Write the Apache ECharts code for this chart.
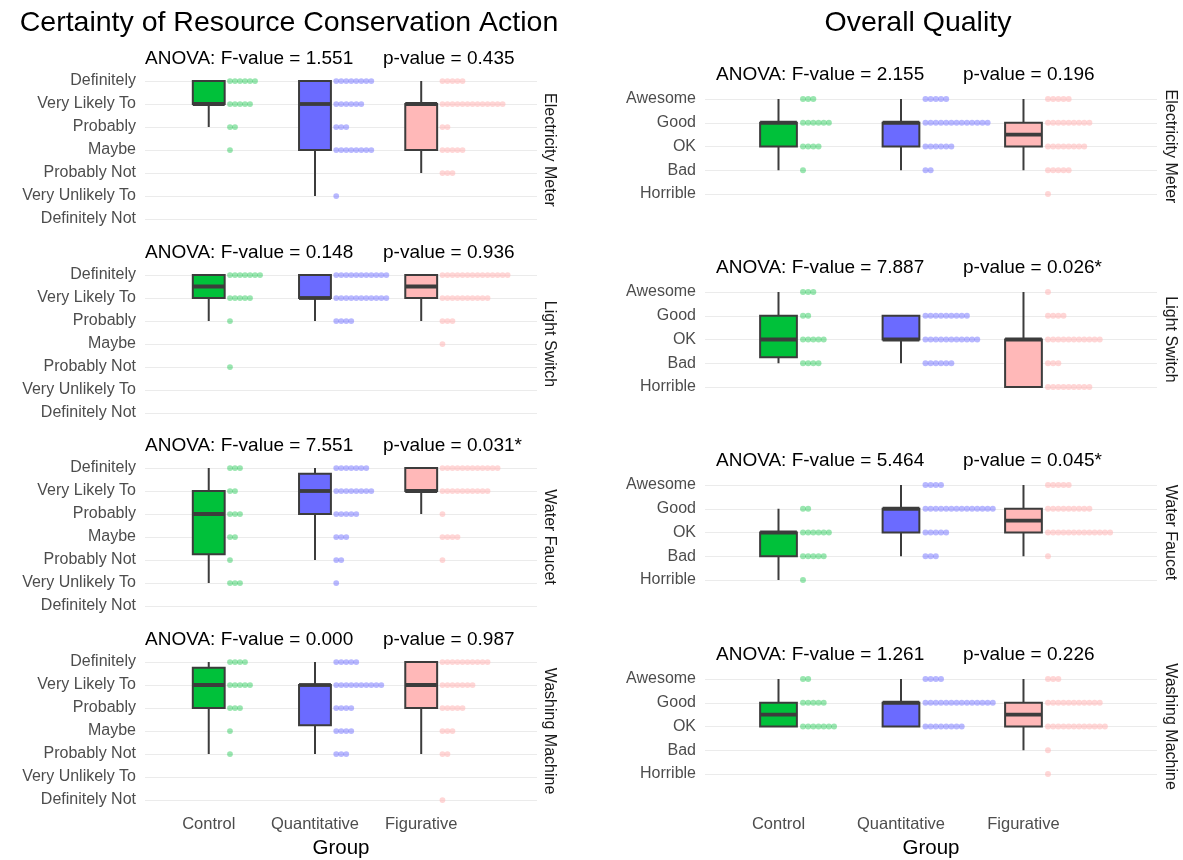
<!DOCTYPE html>
<html>
<head>
<meta charset="utf-8">
<title>Certainty and Overall Quality by Group</title>
<script src="https://cdn.jsdelivr.net/npm/echarts@6/dist/echarts.min.js"></script>
<style>
  html, body { margin: 0; padding: 0; background: #ffffff; }
  #chart { width: 1183px; height: 860px; }
</style>
</head>
<body>
<div id="chart"></div>
<script>
// ---- data -------------------------------------------------------------
const groups = ['Control', 'Quantitative', 'Figurative'];
const fixtures = ['Electricity Meter', 'Light Switch', 'Water Faucet', 'Washing Machine'];
const certaintyLevels = ['Definitely Not', 'Very Unlikely To', 'Probably Not', 'Maybe',
                         'Probably', 'Very Likely To', 'Definitely'];
const qualityLevels = ['Horrible', 'Bad', 'OK', 'Good', 'Awesome'];

// number of answers at each level (lowest level first), per group: Control, Quantitative, Figurative
const certaintyElectricity = [[0,0,0,1,2,5,6], [0,1,0,8,3,6,8], [0,0,3,5,2,13,5]];
const certaintyLight       = [[0,0,1,0,1,5,7], [0,0,0,0,4,11,11], [0,0,0,1,3,10,14]];
const certaintyWater       = [[0,3,1,2,3,2,3], [0,1,2,3,5,8,7], [0,0,1,4,1,10,12]];
const certaintyWashing     = [[0,0,1,1,3,5,4], [0,0,3,4,4,10,5], [1,0,2,3,5,7,10]];

const qualityElectricity = [[0,1,4,6,3], [0,2,6,13,5], [1,5,8,9,5]];
const qualityLight       = [[0,4,5,2,3], [0,6,11,9,0], [9,3,11,4,1]];
const qualityWater       = [[1,5,6,2,0], [0,3,5,14,4], [0,1,13,9,5]];
const qualityWashing     = [[0,0,7,5,2], [0,0,8,14,4], [1,1,12,11,3]];

const certaintyF = ['1.551', '0.148', '7.551', '0.000'];
const certaintyP = ['0.435', '0.936', '0.031*', '0.987'];
const qualityF   = ['2.155', '7.887', '5.464', '1.261'];
const qualityP   = ['0.196', '0.026*', '0.045*', '0.226'];

// ---- styling ----------------------------------------------------------
const FONT = '"Liberation Sans", Arial, Helvetica, sans-serif';
const BOX_FILL = ['#00C13A', '#6B6BFF', '#FFB8B8'];
const DOT_FILL = ['rgba(0,193,58,0.5)', 'rgba(107,107,255,0.6)', 'rgba(255,184,184,0.72)'];
const LINE = '#3C3C3C';
const X_MIN = 0.4, X_MAX = 4.09;
const BOX_HALF = 0.15;      // half box width, in group units
const DOT_NUDGE = 0.2;      // dots start this far right of the group centre
const DOT_STEP = 0.218;     // dot spacing, in response-level units
const DOT_SIZE = 0.25;      // dot diameter, in response-level units

const columns = [
  {
    title: 'Certainty of Resource Conservation Action', titleX: 289,
    levels: certaintyLevels,
    panels: [certaintyElectricity, certaintyLight, certaintyWater, certaintyWashing],
    F: certaintyF, P: certaintyP,
    left: 145, width: 392, tops: [81, 275, 468, 662], height: 138,
    anovaX: 145, pX: 383, anovaDy: -22, stripX: 549, labelMargin: 16, nameGap: 38
  },
  {
    title: 'Overall Quality', titleX: 918,
    levels: qualityLevels,
    panels: [qualityElectricity, qualityLight, qualityWater, qualityWashing],
    F: qualityF, P: qualityP,
    left: 705, width: 452, tops: [99, 292, 485, 679], height: 95,
    anovaX: 716, pX: 963, anovaDy: -24, stripX: 1170, labelMargin: 42, nameGap: 64
  }
];

// ---- box statistics (R type-7 quantiles, 1.5 IQR whiskers) --------------
function quantile(sorted, p) {
  const h = (sorted.length - 1) * p;
  const lo = Math.floor(h), hi = Math.ceil(h);
  return sorted[lo] + (h - lo) * (sorted[hi] - sorted[lo]);
}
function boxStats(counts) {
  const vals = [];
  counts.forEach((n, i) => { for (let k = 0; k < n; k++) vals.push(i + 1); });
  const q1 = quantile(vals, 0.25), med = quantile(vals, 0.5), q3 = quantile(vals, 0.75);
  const iqr = q3 - q1;
  const inside = vals.filter(v => v >= q1 - 1.5 * iqr && v <= q3 + 1.5 * iqr);
  return [Math.min.apply(null, inside), q1, med, q3, Math.max.apply(null, inside)];
}

function renderBox(params, api) {
  const g = api.value(0);
  const gi = g - 1;
  const lo = api.coord([g, api.value(1)]);
  const q1 = api.coord([g, api.value(2)]);
  const md = api.coord([g, api.value(3)]);
  const q3 = api.coord([g, api.value(4)]);
  const hi = api.coord([g, api.value(5)]);
  const half = api.size([BOX_HALF, 0])[0];
  const x = q1[0];
  const children = [];
  if (hi[1] < q3[1] - 0.5) {
    children.push({ type: 'line', shape: { x1: x, y1: hi[1], x2: x, y2: q3[1] },
      style: { stroke: LINE, lineWidth: 2 } });
  }
  if (lo[1] > q1[1] + 0.5) {
    children.push({ type: 'line', shape: { x1: x, y1: q1[1], x2: x, y2: lo[1] },
      style: { stroke: LINE, lineWidth: 2 } });
  }
  children.push({ type: 'rect', shape: { x: x - half, y: q3[1], width: half * 2, height: q1[1] - q3[1] },
    style: { fill: BOX_FILL[gi], stroke: LINE, lineWidth: 2 } });
  children.push({ type: 'line', shape: { x1: x - half, y1: md[1], x2: x + half, y2: md[1] },
    style: { stroke: LINE, lineWidth: 3.8 } });
  return { type: 'group', children };
}

// ---- build option ---------------------------------------------------------
const grid = [], xAxis = [], yAxis = [], series = [], graphic = [];
let idx = 0;
columns.forEach(col => {
  const nLev = col.levels.length;
  graphic.push({
    type: 'text', x: col.titleX, y: 23,
    style: { text: col.title, fontFamily: FONT, fontSize: 28.5, fill: '#000', align: 'center', verticalAlign: 'middle' }
  });
  col.panels.forEach((counts, i) => {
    const top = col.tops[i];
    const yPx = col.height / (nLev - 1);
    const xPx = col.width / (X_MAX - X_MIN);
    const last = i === col.panels.length - 1;
    grid.push({ left: col.left, top: top, width: col.width, height: col.height });
    xAxis.push({
      gridIndex: idx, type: 'value', min: X_MIN, max: X_MAX,
      axisLine: { show: false }, axisTick: { show: false }, splitLine: { show: false },
      axisLabel: {
        show: last, customValues: [1, 2, 3],
        formatter: v => groups[Math.round(v) - 1] && Math.abs(v - Math.round(v)) < 1e-6 ? groups[Math.round(v) - 1] : '',
        color: '#4D4D4D', fontSize: 16.5, fontFamily: FONT, margin: col.labelMargin
      },
      name: last ? 'Group' : '', nameLocation: 'middle', nameGap: col.nameGap,
      nameTextStyle: { color: '#000', fontSize: 20.5, fontFamily: FONT }
    });
    yAxis.push({
      gridIndex: idx, type: 'value', min: 1, max: nLev, interval: 1,
      axisLine: { show: false }, axisTick: { show: false },
      splitLine: { show: true, lineStyle: { color: '#EBEBEB', width: 1 } },
      axisLabel: {
        formatter: v => col.levels[v - 1] || '',
        color: '#4D4D4D', fontSize: 16, fontFamily: FONT, margin: 9
      }
    });

    // boxes
    series.push({
      type: 'custom', xAxisIndex: idx, yAxisIndex: idx, clip: false, silent: true,
      renderItem: renderBox,
      encode: { x: 0, y: [1, 2, 3, 4, 5] },
      data: counts.map((c, g) => [g + 1].concat(boxStats(c)))
    });

    // stacked dots, one row per response level
    const stepX = DOT_STEP * yPx / xPx;
    const dots = [];
    counts.forEach((c, g) => {
      c.forEach((n, lev) => {
        for (let k = 0; k < n; k++) {
          dots.push({ value: [g + 1 + DOT_NUDGE + k * stepX, lev + 1], itemStyle: { color: DOT_FILL[g] } });
        }
      });
    });
    series.push({
      type: 'scatter', xAxisIndex: idx, yAxisIndex: idx, clip: false, silent: true,
      symbol: 'circle', symbolSize: DOT_SIZE * yPx, data: dots, z: 3
    });

    // ANOVA annotation
    const ty = top + col.anovaDy;
    graphic.push({
      type: 'text', x: col.anovaX, y: ty,
      style: { text: 'ANOVA: F-value = ' + col.F[i], fontFamily: FONT, fontSize: 19, fill: '#000', align: 'left', verticalAlign: 'middle' }
    });
    graphic.push({
      type: 'text', x: col.pX, y: ty,
      style: { text: 'p-value = ' + col.P[i], fontFamily: FONT, fontSize: 19, fill: '#000', align: 'left', verticalAlign: 'middle' }
    });
    // facet strip label
    graphic.push({
      type: 'text', x: col.stripX, y: top + col.height / 2, rotation: -Math.PI / 2,
      style: { text: fixtures[i], fontFamily: FONT, fontSize: 16, fill: '#1A1A1A', align: 'center', verticalAlign: 'middle' }
    });
    idx++;
  });
});

const chart = echarts.init(document.getElementById('chart'), null, { renderer: 'canvas' });
chart.setOption({
  backgroundColor: '#ffffff',
  animation: false,
  textStyle: { fontFamily: FONT },
  grid, xAxis, yAxis, series, graphic
});
</script>
</body>
</html>
